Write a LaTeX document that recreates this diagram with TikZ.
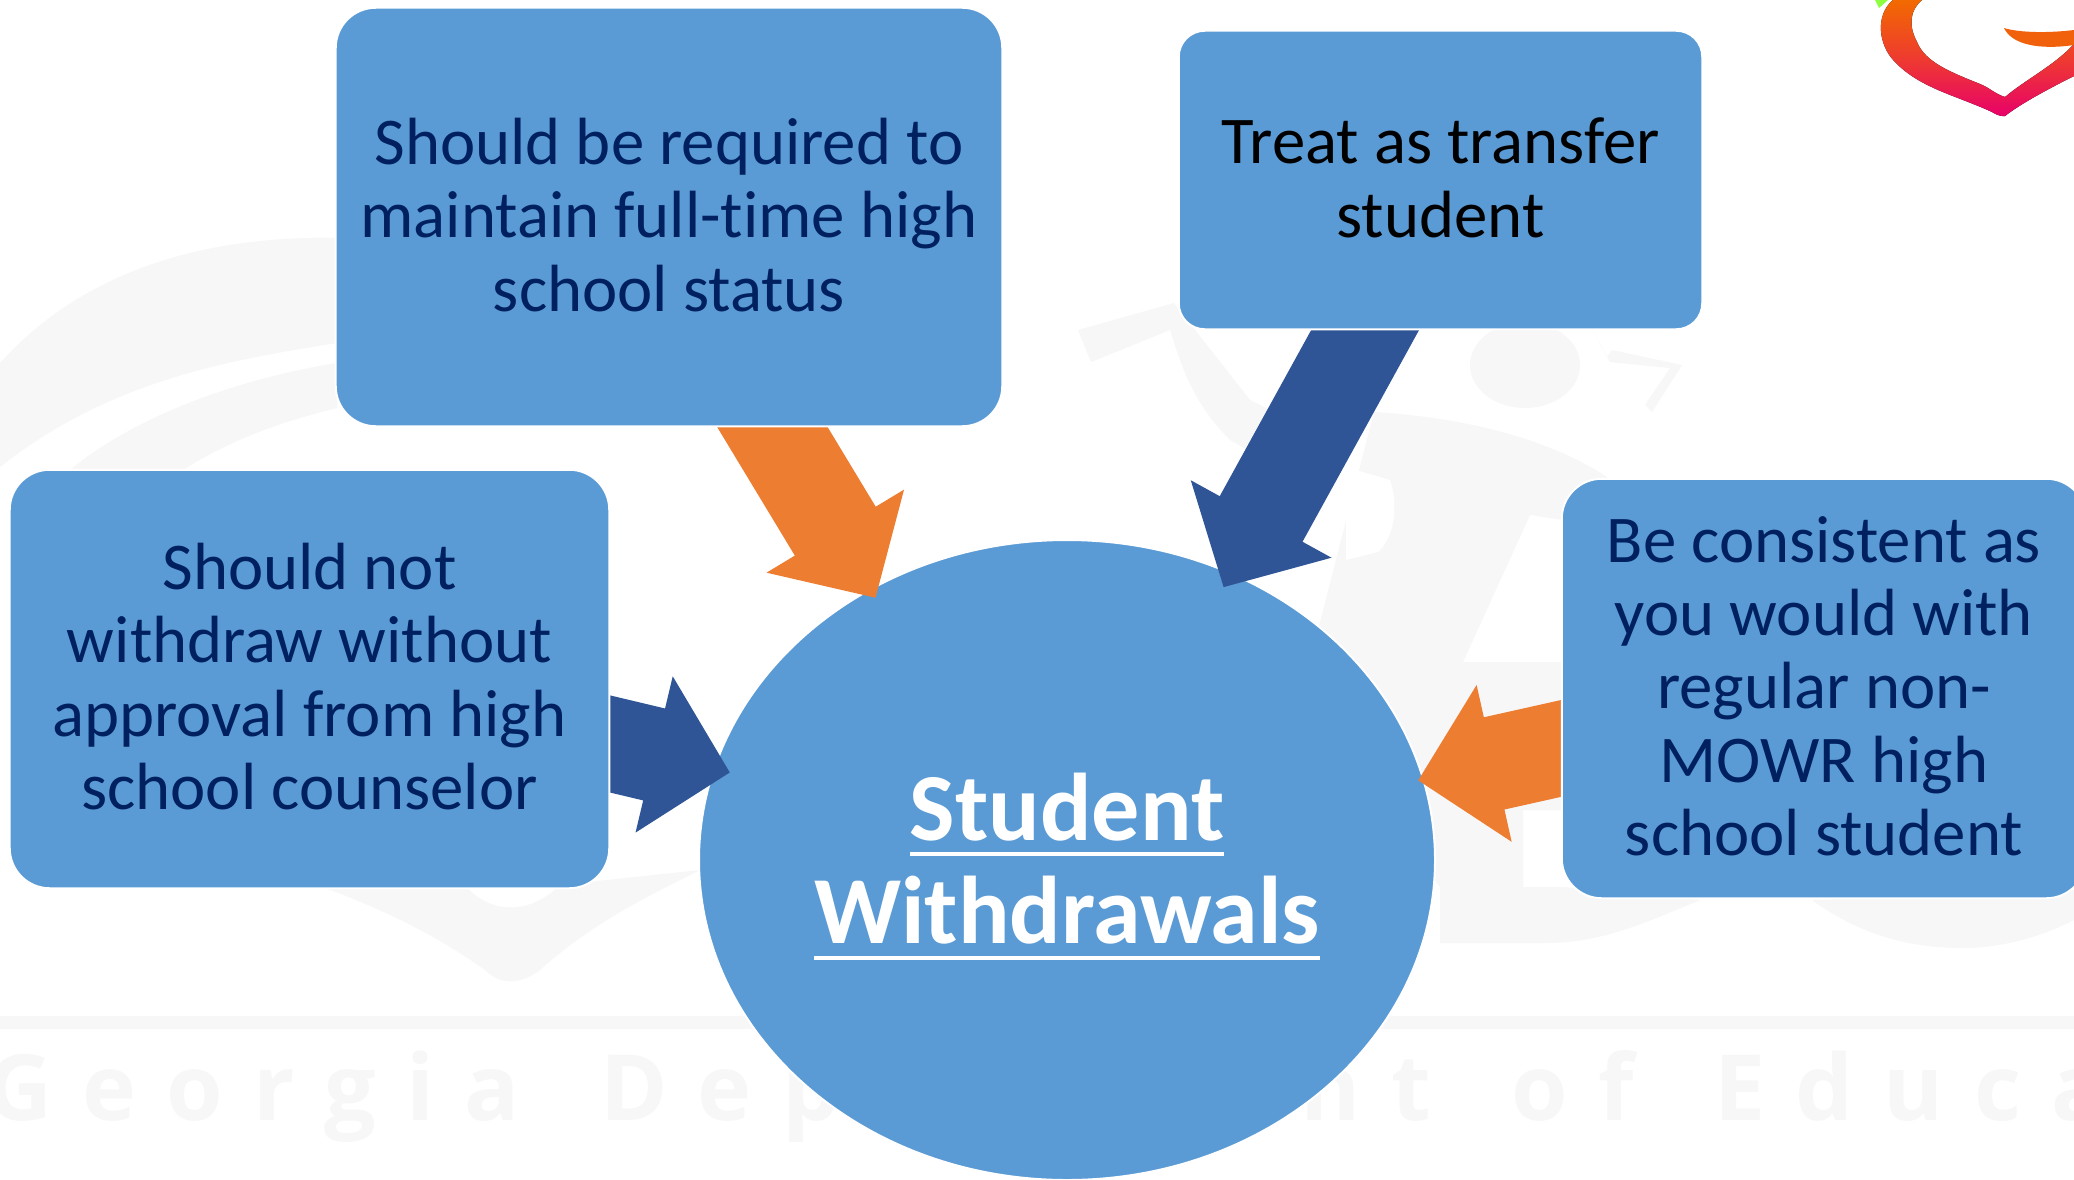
\documentclass[tikz,border=0pt]{standalone}
\usepackage{fontspec}
\usetikzlibrary{arrows.meta, positioning, calc, shapes.geometric}
\setmainfont[Ligatures=NoCommon]{Carlito}
\newfontfamily\wmfont[LetterSpace=33, WordSpace=1.5]{Open Sans}
\definecolor{boxblue}{HTML}{5B9BD5}
\definecolor{flowblue}{HTML}{2F5597}
\definecolor{floworange}{HTML}{ED7D31}
\definecolor{navytext}{HTML}{002060}
\definecolor{wmgrey}{HTML}{F7F7F7}
\definecolor{logotop}{HTML}{F26A00}
\definecolor{logomid}{HTML}{EE3A30}
\definecolor{logolow}{HTML}{E8006A}
\pgfdeclarelayer{wmlayer}
\pgfdeclarelayer{flowlayer}
\pgfsetlayers{wmlayer,flowlayer,main}
\newcommand{\thickul}[1]{\setbox0\hbox{#1}\rlap{\rule[-9pt]{\wd0}{2.4pt}}\box0}
\newcommand{\liftline}{\rule[-1mm]{0pt}{1mm}}

\begin{document}
\begin{tikzpicture}[x=0.2mm, y=-0.2mm,
  infobox/.style = {draw=white, line width=0.4mm, fill=boxblue, align=center, text=navytext, inner sep=0pt,
    font=\fontsize{38}{41.8}\selectfont},
  mainbox/.style = {ellipse, draw=white, line width=0.4mm, fill=boxblue, align=center, text=white, inner sep=0pt,
    font=\fontsize{54.7}{59}\selectfont\bfseries},
  flow/.style = {line width=18.9mm, line cap=butt, shorten <=-9mm, -{Triangle[length=15.6mm, width=31.2mm]}},
  wmshape/.style = {fill=wmgrey, draw=none}
]
\useasboundingbox (0,0) rectangle (2074,1179);

% faint logo behind everything
\begin{pgfonlayer}{wmlayer}
\fill[white] (0,0) rectangle (2074,1179);
\fill[wmshape] (0,363) .. controls (70,285) and (180,235) .. (337,238) -- (420,300) -- (337,343)
  .. controls (230,360) and (110,380) .. (0,467) -- cycle;
\fill[wmshape] (70,470) .. controls (130,420) and (230,380) .. (337,363) -- (337,408)
  .. controls (280,422) and (230,440) .. (183,470) -- cycle;
\fill[wmshape] (317,885) .. controls (400,915) and (450,945) .. (485,970)
  .. controls (500,985) and (520,985) .. (540,970) .. controls (590,925) and (640,900) .. (700,870)
  -- (560,885) .. controls (530,915) and (490,915) .. (465,885) -- cycle;
\fill[wmshape] (1078,330) -- (1174,303) -- (1250,400) -- (1330,440) -- (1300,480) -- (1230,440)
  .. controls (1190,400) and (1180,360) .. (1170,330) -- (1091,362) -- cycle;
\fill[wmshape] (1525,365) ellipse [x radius=55, y radius=43];
\fill[wmshape] (1590,325) -- (1607,357) -- (1612,350) -- (1682,365) -- (1652,412) -- (1645,405) -- (1670,368) -- (1610,362) -- cycle;
\fill[wmshape] (1374,412) .. controls (1470,418) and (1550,440) .. (1607,477) -- (1563,520)
  -- (1530,515) -- (1463,662) -- (1563,662) -- (1563,810) -- (1523,810) -- (1523,887) -- (1563,887) -- (1700,900)
  .. controls (1640,925) and (1600,943) .. (1545,943) -- (1440,943) -- (1440,887) -- (1300,700) -- cycle;
\fill[white] (1346,467) -- (1390,480) .. controls (1400,510) and (1392,540) .. (1378,552) -- (1346,560) -- cycle;
\fill[wmshape] (1812,900) .. controls (1860,935) and (1910,948) .. (1962,948)
  .. controls (2005,948) and (2045,935) .. (2074,920) -- (2074,890) -- cycle;
\fill[wmshape] (0,1016) rectangle (2074,1029);
\node[text=wmgrey, anchor=base west, inner sep=0pt, font=\fontsize{52}{60}\selectfont\bfseries\wmfont] (wmtext)
  at (-14,1120) {Georgia Department of Education};
\end{pgfonlayer}

% corner logo
\fill[top color=logotop, bottom color=logolow, middle color=logomid]
  (1893,0) .. controls (1875,15) and (1878,45) .. (1895,62) .. controls (1920,88) and (1955,95) .. (1992,112)
  .. controls (2000,117) and (2003,116) .. (2005,116) .. controls (2020,104) and (2050,88) .. (2074,76)
  -- (2074,44) .. controls (2055,65) and (2025,80) .. (2005,97) .. controls (1995,94) and (1990,88) .. (1980,84)
  .. controls (1950,72) and (1925,62) .. (1917,42) .. controls (1908,25) and (1910,10) .. (1922,0) -- cycle;
\fill[logotop!80!logomid] (2004,28) .. controls (2020,33) and (2050,33) .. (2074,30) -- (2074,45)
  .. controls (2040,50) and (2012,45) .. (2004,28) -- cycle;
\fill[green!60!yellow!75!white] (1875,0) -- (1888,0) -- (1879,8) -- cycle;

\begin{pgfonlayer}{wmlayer}
\node[mainbox, minimum width=147.2mm, minimum height=128mm] (withdrawals) at (1067,860)
  {\rule{0pt}{16mm}\thickul{Student}\\\thickul{Withdrawals}};
\end{pgfonlayer}
\node[infobox, rounded corners=8mm, minimum width=133.3mm, minimum height=83.7mm] (fulltime) at (669,217)
  {Should be required to\\maintain full-time high\\school status\liftline};
\node[infobox, rounded corners=5.2mm, minimum width=104.7mm, minimum height=59.7mm, text=black] (transfer) at (1440.5,180)
  {Treat as transfer\\student\liftline};
\node[infobox, rounded corners=8mm, minimum width=119.9mm, minimum height=83.7mm] (approval) at (309.5,679)
  {Should not\\withdraw without\\approval from high\\school counselor\liftline};
\node[infobox, rounded corners=8mm, minimum width=104.9mm, minimum height=83.9mm] (consistent) at (1824,688.5)
  {Be consistent as\\you would with\\regular non-\\MOWR high\\school student\liftline};

\begin{pgfonlayer}{flowlayer}
\draw[flow, floworange] ([xshift=20.7mm]fulltime.south) -- ([shift={(-191.4,-262.1)}]withdrawals.center);
\draw[flow, flowblue] ([xshift=-15.1mm]transfer.south) -- ([shift={(156.5,-272.7)}]withdrawals.center);
\draw[flow, flowblue] ([yshift=-13mm]approval.east) -- ([shift={(-337,-87.5)}]withdrawals.center);
\draw[flow, floworange] ([yshift=-12mm]consistent.west) -- ([shift={(351,-79.6)}]withdrawals.center);
\end{pgfonlayer}
\end{tikzpicture}
\end{document}
